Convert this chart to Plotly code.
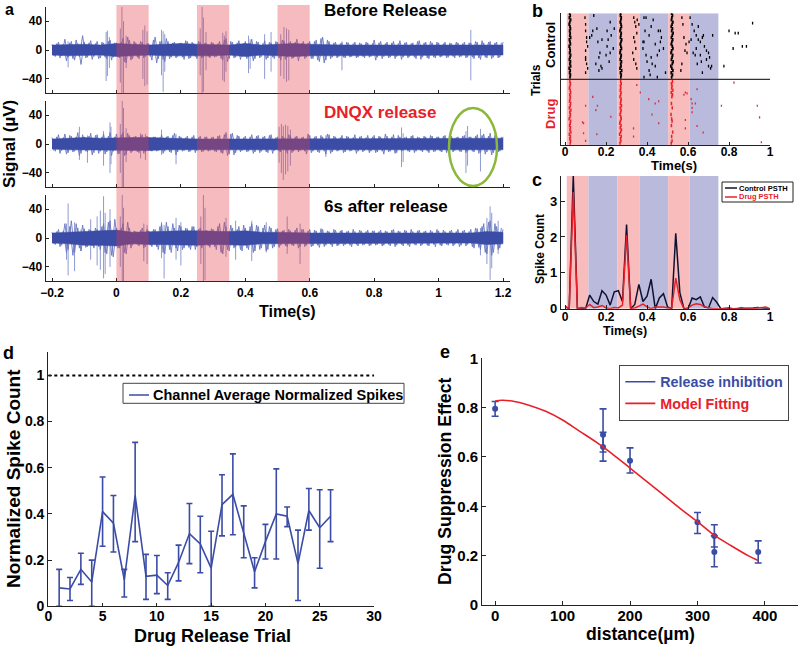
import numpy as np
import plotly.graph_objects as go

# ---------- panel a data ----------
a_time = np.round(np.arange(-0.2, 1.2001, 0.01), 3).tolist()
a_band_time = np.round(np.arange(-0.2, 1.2001, 0.05), 3).tolist()
a1_noise = [8,-9,11,-8,15,-10,12,-14,9,-20, 11,-10,13,-9,12,-11,10,-12,14,-10,
            10,-11,16,-18,14,-12,10,-12,11,-9, 9,-14,18,-12,13,-16,12,-10,11,-9,
            10,-13,12,-11,9,-12,11,-10,9,-11, 10,-9,12,-14,16,-12,11,-10,13,-9,
            12,-10,15,-12,11,-9,13,-11,10,-12, 11,-14,13,-10,12,-11,15,-9,12,-10,
            12,-12,14,-16,18,-14,12,-10,11,-9, 10,-11,10,-9,11,-10,9,-11,10,-9,
            14,-10,12,-9,11,-10,12,-9,13,-10, 11,-9,10,-12,13,-10,11,-12,10,-11,
            10,-9,11,-10,9,-11,10,-9,11,-10, 10,-12,11,-13,10,-11,12,-10,11,-10,
            11]
a2_noise = [9,-10,13,-9,14,-12,11,-10,16,-13, 10,-11,15,-12,13,-10,14,-11,16,-10,
            14,-13,16,-15,12,-10,11,-12,13,-11, 9,-10,10,-9,13,-10,11,-12,15,-11,
            10,-9,11,-10,12,-9,11,-10,10,-9, 10,-11,12,-13,16,-14,15,-12,11,-9,
            11,-10,13,-11,12,-10,11,-12,13,-9, 10,-11,9,-13,12,-10,11,-9,10,-14,
            12,-10,11,-12,10,-14,13,-11,10,-9, 12,-11,10,-9,13,-10,11,-9,12,-10,
            12,-11,10,-14,11,-10,13,-12,10,-9, 10,-11,12,-10,9,-11,10,-12,11,-10,
            10,-11,12,-10,11,-9,10,-11,12,-10, 10,-11,13,-12,14,-11,15,-12,11,-10,
            10]
a3_noise = [8,-9,12,-10,20,-16,24,-20,14,-18, 13,-12,11,-14,12,-16,20,-22,24,-26,
            14,-14,20,-22,14,-10,9,-11,14,-12, 10,-12,12,-16,20,-22,16,-20,14,-18,
            16,-14,13,-16,16,-12,14,-10,11,-13, 12,-16,20,-22,16,-18,14,-12,16,-18,
            14,-16,20,-18,16,-14,18,-16,14,-12, 13,-10,11,-12,10,-11,14,-12,12,-10,
            12,-11,10,-13,12,-10,9,-12,11,-10, 11,-9,10,-12,9,-11,10,-9,11,-10,
            10,-9,11,-10,9,-11,12,-10,9,-11, 10,-12,9,-10,11,-9,10,-11,9,-12,
            10,-11,9,-10,11,-9,12,-10,11,-9, 12,-14,13,-16,20,-22,24,-20,16,-14,
            12]
a1_band_hi = [7,8,8,7,9,8,7,8,9,8,8,7,9,7,8,9,8,7,7,7,7,8,7,7,8,7,7,7,7]
a2_band_hi = [7,8,9,8,9,9,9,8,7,7,7,7,8,8,7,7,7,8,7,7,7,8,7,7,7,7,7,8,8]
a3_band_hi = [7,8,10,10,11,8,9,10,10,10,9,9,10,8,8,7,7,7,7,7,7,7,7,7,7,7,7,9,8]
a1_spk_t = [-0.15,-0.032,-0.028,-0.022,0.012,0.017,0.022,0.03,0.082,0.088,0.095,0.14,0.145,0.15,0.26,0.266,0.27,0.278,0.33,0.335,0.34,0.41,0.415,0.46,0.48,0.51,0.52,0.528,0.535,0.70,1.10]
a1_spk_hi = [12,25,27,18,30,60,40,20,28,34,26,28,26,22,30,60,45,25,24,20,26,20,15,22,25,22,32,30,28,12,28]
a1_spk_lo = [-24,-43,-36,-25,-45,-60,-60,-25,-40,-50,-48,-35,-58,-30,-35,-60,-58,-28,-42,-44,-30,-32,-26,-40,-30,-36,-40,-44,-42,-28,-42]
a2_spk_t = [-0.115,-0.04,-0.02,-0.017,0.012,0.018,0.022,0.03,0.075,0.09,0.185,0.14,0.505,0.512,0.518,0.525,0.532,0.54,0.885,0.89,1.085,1.09,1.13,-0.09,0.65]
a2_spk_hi = [24,18,30,24,28,60,50,22,15,14,14,20,24,28,25,27,25,20,23,15,18,25,21,12,12]
a2_spk_lo = [-22,-30,-40,-28,-40,-60,-60,-25,-20,-22,-28,-15,-26,-40,-50,-42,-38,-30,-32,-25,-40,-30,-38,-26,-18]
a3_spk_t = [-0.155,-0.15,-0.13,-0.11,-0.08,-0.06,-0.05,-0.04,-0.035,-0.02,0.012,0.018,0.022,0.085,0.095,0.14,0.148,0.185,0.2,0.262,0.27,0.275,0.34,0.37,0.42,0.465,0.53,0.57,1.13,1.16,1.165,1.185,1.15]
a3_spk_hi = [20,48,22,12,26,30,38,58,35,40,30,60,42,20,18,22,18,28,22,30,60,42,28,24,24,22,30,20,14,44,35,24,28]
a3_spk_lo = [-30,-52,-46,-18,-30,-38,-44,-56,-50,-40,-40,-60,-60,-32,-36,-28,-56,-30,-38,-36,-60,-58,-26,-30,-32,-20,-22,-36,-24,-58,-42,-22,-36]

# ---------- panel b data ----------
b_ctrl_col_trials = list(range(31, 61))
b_ctrl_col1 = [.024,.026,.022,.025,.020,.027,.023,.026,.021,.024,.027,.022,.025,.023,.020,.026,.024,.021,.027,.023,.025,.022,.026,.024,.020,.023,.027,.021,.025,.022]
b_ctrl_col2 = [.272,.274,.270,.276,.268,.273,.271,.275,.269,.272,.274,.268,.270,.275,.272,.269,.273,.276,.270,.272,.274,.268,.271,.275,.273,.269,.272,.274,.270,.271]
b_ctrl_col3 = [.520,.524,.518,.526,.521,.516,.523,.527,.519,.522,.525,.517,.520,.526,.523,.518,.521,.525,.519,.523,.527,.520,.524,.518,.522,.526,.519,.521,.524,.520]
b_drug_col_trials = list(range(1, 30))
b_drug_col1 = [.025,.027,.023,.026,.021,.028,.024,.026,.022,.025,.027,.020,.024,.026,.023,.028,.021,.025,.027,.022,.024,.026,.023,.027,.025,.021,.024,.026,.023]
b_drug_col2 = [.268,.272,.270,.274,.266,.271,.275,.269,.273,.267,.270,.274,.272,.268,.271,.273,.269,.275,.270,.272,.274,.268,.271,.273,.269,.272,.270,.274,.271]
b_drug_col3 = [.518,.522,None,.520,None,.525,None,None,.519,None,.522,.520,None,.517,None,None,.523,None,.519,None,None,.521,.524,.518,.526,.520,.522,.519,.524]
b_ctrl_t = [.097,.100,.100,.105,.105,.110,.100,.100,.100,.105,.110,.100,.140,.155,.160,.130,.170,.180,.165,.165,.175,.205,.205,.220,.225,.215,.200,.235,.180,.150,.120,.135,.220,.240,.210,
            .335,.340,.345,.350,.352,.335,.340,.345,.330,.335,.345,.350,.360,.385,.390,.385,.380,.395,.410,.420,.430,.440,.450,.460,.470,.400,.410,.425,.455,.380,.395,.420,.440,.480,.385,.415,.450,.465,.490,.465,
            .570,.575,.580,.590,.585,.595,.570,.565,.610,.620,.630,.640,.650,.660,.670,.680,.690,.700,.705,.715,.625,.645,.665,.650,.635,.605,.615,.675,.690,.710,.660,.700,.720,.640,.670,
            .800,.830,.845,.915,.820,.865,.885,.775]
b_ctrl_trial = [58,55,52,49,47,45,43,40,39,37,35,33,59,53,47,50,42,48,40,34,36,52,45,42,50,38,41,44,35,37,49,52,56,53,48,
                58,56,54,51,57,49,47,44,42,39,37,35,55,58,52,47,44,41,50,54,57,46,41,43,49,38,34,37,52,47,58,40,36,44,31,32,31,47,33,52,
                58,55,49,46,43,42,37,34,58,55,52,50,48,47,49,45,43,42,40,36,42,37,38,54,41,47,48,50,39,35,41,36,50,44,33,
                52,51,51,55.5,44,45,45,36]
b_drug_t = [.090,.085,.090,.100,.100,.135,.158,.150,.223,.155,.334,.350,.367,.408,.457,.440,.424,.457,.334,.587,.580,.595,.587,.587,.620,.615,.644,.620,.636,.620,.644,.674,.763,.824,.938,.949,.958]
b_drug_trial = [10,10.5,5.5,2,18,22,18,16,13,5,7.7,27.4,24,21,20,19,14,10,4,24,23,23.6,11.5,7.7,15,21,25.5,19,19,17,8.8,5.8,18,28.5,18,12.7,1.4]

# ---------- panel c data ----------
c_time = np.round(np.arange(0, 1.001, 0.02), 2).tolist()
c_control = [.05,0,3.7,0,.02,0,.38,.2,.13,.5,.38,.1,.47,.5,.2,2.35,0,.12,.68,.2,.35,.82,0,.3,.42,.05,0,2.1,.45,0,0,.3,.25,.33,.05,.02,.31,.18,0,.02,.02,0,0,0,0,0,.02,.03,.02,.02,0]
c_drug = [.07,0,3.25,0,.03,.02,.12,.03,.05,.09,.02,0,.03,.02,.1,2.05,0,.02,.07,.13,.05,0,.05,.05,.05,.02,.02,.85,.25,0,.02,.1,.14,.12,.05,.03,0,0,0,0,.02,.02,0,.03,0,0,0,.02,.03,.05,0]

# ---------- panel d data ----------
d_trial = list(range(1, 27))
d_mean = [.08,.075,.16,.105,.41,.36,.115,.48,.13,.135,.09,.19,.315,.27,.165,.44,.485,.32,.15,.28,.40,.39,.185,.415,.34,.39]
d_upper = [.16,.125,.23,.20,.56,.48,.16,.71,.225,.22,.145,.265,.445,.39,.325,.57,.66,.435,.21,.355,.595,.43,.33,.51,.505,.505]
d_lower = [0,.025,.095,0,.26,.235,.04,.28,.03,.055,.03,.11,.185,.145,0,.305,.31,.21,.08,.205,.205,.345,.025,.33,.165,.28]
d_ref_x = [0, 30]
d_ref_y = [1, 1]

# ---------- panel e data ----------
e_dist = [0,160,160,200,300,325,325,390]
e_mean = [.795,.69,.64,.585,.335,.28,.215,.215]
e_upper = [.825,.795,.70,.637,.375,.325,.28,.26]
e_lower = [.765,.62,.583,.535,.29,.235,.155,.17]
e_fit_x = [0,10,25,50,75,100,125,150,175,200,225,250,275,300,325,350,375,390]
e_fit_y = [.827,.83,.827,.81,.785,.75,.705,.66,.61,.555,.50,.445,.39,.338,.283,.24,.20,.18]

BLUE = "#3b4ca6"
MBLUE = "#6676c0"
LBLUE = "#8e9ad0"
PINK = "#f8bcbc"
VIOLET = "#babadd"
RED = "#e8202a"
FONT = "Liberation Sans"

def dx(a, b): return [a / 800, b / 800]
def dy(top, bot): return [1 - bot / 646, 1 - top / 646]
def b_(s): return f"<b>{s}</b>"

fig = go.Figure()

# panel a
signal = [(a1_noise, a1_band_hi, a1_spk_t, a1_spk_hi, a1_spk_lo),
          (a2_noise, a2_band_hi, a2_spk_t, a2_spk_hi, a2_spk_lo),
          (a3_noise, a3_band_hi, a3_spk_t, a3_spk_hi, a3_spk_lo)]
for i, (noise, band, st, sh, sl) in enumerate(signal):
    ax = "" if i == 0 else str(i + 1)
    sx, sy = [], []
    for t, h, l in zip(st, sh, sl):
        sx += [t, t, None]
        sy += [h, l, None]
    fig.add_trace(go.Scatter(x=sx, y=sy, mode="lines", line=dict(color=LBLUE, width=1),
                             xaxis="x" + ax, yaxis="y" + ax, showlegend=False, hoverinfo="skip"))
    fig.add_trace(go.Scatter(x=[t + 0.005 for t in a_time[:-1]], y=[-v for v in noise[:-1]], mode="lines",
                             line=dict(color=MBLUE, width=0.9),
                             xaxis="x" + ax, yaxis="y" + ax, showlegend=False))
    fig.add_trace(go.Scatter(x=a_time, y=noise, mode="lines", line=dict(color=MBLUE, width=0.9),
                             xaxis="x" + ax, yaxis="y" + ax, showlegend=False))
    fig.add_trace(go.Scatter(x=a_band_time + a_band_time[::-1],
                             y=band + [-v for v in band[::-1]], mode="lines", fill="toself",
                             fillcolor=BLUE, line=dict(color=BLUE, width=0.5),
                             xaxis="x" + ax, yaxis="y" + ax, showlegend=False))

# panel b
def raster(t, tr, color, size=2.0, w=1.3):
    fig.add_trace(go.Scatter(x=t, y=tr, mode="markers", xaxis="x4", yaxis="y4", showlegend=False,
                             marker=dict(symbol="line-ns", size=size, line=dict(color=color, width=w))))
for col in (b_ctrl_col1, b_ctrl_col2, b_ctrl_col3):
    raster(col, b_ctrl_col_trials, "black", 2.4, 1.7)
raster(b_ctrl_t, b_ctrl_trial, "black")
for col in (b_drug_col1, b_drug_col2, b_drug_col3):
    raster(col, b_drug_col_trials, RED, 2.4, 1.5)
raster(b_drug_t, b_drug_trial, "#d8303a", 1.5)

# panel c
fig.add_trace(go.Scatter(x=c_time, y=c_control, mode="lines", xaxis="x5", yaxis="y5",
                         line=dict(color="#101030", width=1.5), showlegend=False))
fig.add_trace(go.Scatter(x=c_time, y=c_drug, mode="lines", xaxis="x5", yaxis="y5",
                         line=dict(color=RED, width=1.5), showlegend=False))

# panel d
fig.add_trace(go.Scatter(x=d_ref_x, y=d_ref_y, mode="lines", xaxis="x6", yaxis="y6", showlegend=False,
                         line=dict(color="black", width=2, dash="dot")))
fig.add_trace(go.Scatter(x=d_trial, y=d_mean, mode="lines", xaxis="x6", yaxis="y6", cliponaxis=False,
                         line=dict(color=BLUE, width=1.6), showlegend=False,
                         error_y=dict(type="data", symmetric=False, color=BLUE, thickness=1.6, width=3,
                                      array=[u - m for u, m in zip(d_upper, d_mean)],
                                      arrayminus=[m - l for m, l in zip(d_mean, d_lower)])))

# panel e
fig.add_trace(go.Scatter(x=e_dist, y=e_mean, mode="markers", xaxis="x7", yaxis="y7", showlegend=False,
                         marker=dict(color=BLUE, size=6),
                         error_y=dict(type="data", symmetric=False, color=BLUE, thickness=1.6, width=3.5,
                                      array=[u - m for u, m in zip(e_upper, e_mean)],
                                      arrayminus=[m - l for m, l in zip(e_mean, e_lower)])))
fig.add_trace(go.Scatter(x=[None], y=[None], mode="lines", xaxis="x7", yaxis="y7", legend="legend",
                         line=dict(color=BLUE, width=1.6),
                         name="<span style='color:#3b4ca6'>" + b_("Release inhibition") + "</span>"))
fig.add_trace(go.Scatter(x=e_fit_x, y=e_fit_y, mode="lines", xaxis="x7", yaxis="y7", legend="legend",
                         line=dict(color=RED, width=1.6, shape="spline"),
                         name="<span style='color:#e8202a'>" + b_("Model Fitting") + "</span>"))

shapes = []
for x0, x1 in [(0, 0.1), (0.25, 0.35), (0.5, 0.6)]:
    shapes.append(dict(type="rect", xref="x3", yref="paper", x0=x0, x1=x1,
                       y0=1 - 281.3 / 646, y1=1 - 5 / 646, layer="above",
                       fillcolor="rgba(230,60,70,0.35)", line_width=0))
shapes.append(dict(type="circle", xref="paper", yref="paper", x0=449 / 800, x1=497 / 800,
                   y0=1 - 186 / 646, y1=1 - 108 / 646, line=dict(color="#8ab83a", width=2.5), layer="above"))
bands = [(.008, .114, PINK), (.114, .255, VIOLET), (.255, .363, PINK),
         (.363, .503, VIOLET), (.503, .608, PINK), (.608, .748, VIOLET)]
for ax_x, ax_y, top in [("x4", "y4", 60), ("x5", "y5", 3.7)]:
    for x0, x1, c in bands:
        shapes.append(dict(type="rect", xref=ax_x, yref=ax_y, x0=x0, x1=x1, y0=0, y1=top,
                           fillcolor=c, line_width=0, layer="below"))
shapes.append(dict(type="line", xref="x4", yref="y4", x0=-0.02, x1=1, y0=30, y1=30,
                   line=dict(color="#333333", width=1.3), layer="above"))

def pbox(x0, y0, x1, y1, color):
    return dict(type="rect", xref="paper", yref="paper", x0=x0 / 800, x1=x1 / 800,
                y0=1 - y1 / 646, y1=1 - y0 / 646, fillcolor="white",
                line=dict(color=color, width=1), layer="above")
def pline(x0, x1, y, color, w=1.5):
    return dict(type="line", xref="paper", yref="paper", x0=x0 / 800, x1=x1 / 800,
                y0=1 - y / 646, y1=1 - y / 646, line=dict(color=color, width=w), layer="above")
shapes += [pbox(722, 182, 793, 202, "#222222"), pline(725, 737, 188, "#101030"), pline(725, 737, 197, RED),
           pbox(123, 383.3, 404, 403.3, "#444444"), pline(129, 149, 395, BLUE)]

def text(x, y, s, size, color="black", angle=0, anchor="center"):
    return dict(xref="paper", yref="paper", x=x / 800, y=1 - y / 646, text=b_(s), showarrow=False,
                font=dict(family=FONT, size=size, color=color), textangle=angle,
                xanchor=anchor, yanchor="middle", borderpad=0)

annotations = [
    text(4, 9, "a", 16, anchor="left"), text(531, 11, "b", 18, anchor="left"),
    text(531, 180, "c", 18, anchor="left"), text(2, 353, "d", 18, anchor="left"),
    text(439, 352, "e", 18, anchor="left"),
    text(323, 11, "Before Release", 17, anchor="left"),
    text(323, 112, "DNQX release", 17, RED, anchor="left"),
    text(323, 207, "6s after release", 17, anchor="left"),
    text(536, 80, "Trials", 12, angle=-90),
    text(550, 45, "Control", 13, angle=-90),
    text(550, 114, "Drug", 13, RED, angle=-90),
    text(9, 144, "Signal (µV)", 17, angle=-90),
    text(287, 311, "Time(s)", 16),
    text(674, 165, "Time(s)", 13),
    text(625, 331, "Time(s)", 12.5),
    text(540, 249, "Spike Count", 12, angle=-90),
    text(13, 479, "Normalized Spike Count", 19, angle=-90),
    text(212.5, 636, "Drug Release Trial", 18),
    text(445, 482, "Drug Suppression Effect", 17.7, angle=-90),
    text(640, 634, "distance(µm)", 17.6),
    text(738, 188, "Control PSTH", 7.5, anchor="left"),
    text(738, 197, "Drug PSTH", 7.5, RED, anchor="left"),
    text(152, 395, "Channel Average Normalized Spikes", 14.5, anchor="left"),
]

def axis(dom, rng, dtick=None, fs=12, **kw):
    d = dict(domain=dom, range=rng, showgrid=False, zeroline=False, showline=True, linecolor="#222222",
             linewidth=1.2, ticks="inside", ticklen=3.5, tickcolor="#222222", automargin=False,
             tickfont=dict(family=FONT, size=fs, color="black", weight="bold"))
    if dtick is not None:
        d["dtick"] = dtick
    d.update(kw)
    return d

ax_xrange = [-0.2196, 1.2217]
rows = [(6.8, 93.3), (100.8, 187.3), (194.8, 281.3)]
frac = dict(tickvals=[0, .2, .4, .6, .8, 1], ticktext=["0", "0.2", "0.4", "0.6", "0.8", "1"])
layout = dict(
    width=800, height=646, autosize=False, margin=dict(l=0, r=0, t=0, b=0),
    paper_bgcolor="white", plot_bgcolor="rgba(0,0,0,0)", shapes=shapes, annotations=annotations,
    font=dict(family=FONT),
    xaxis=axis(dx(45.7, 510), ax_xrange, 0.2, anchor="y", showticklabels=False),
    yaxis=axis(dy(*rows[0]), [-60, 60], anchor="x", tickvals=[-40, 0, 40]),
    xaxis2=axis(dx(45.7, 510), ax_xrange, 0.2, anchor="y2", showticklabels=False),
    yaxis2=axis(dy(*rows[1]), [-60, 60], anchor="x2", tickvals=[-40, 0, 40]),
    xaxis3=axis(dx(45.7, 510), ax_xrange, 0.2, anchor="y3"),
    yaxis3=axis(dy(*rows[2]), [-60, 60], anchor="x3", tickvals=[-40, 0, 40]),
    xaxis4=axis(dx(561, 770), [-0.02, 1.0], 0.2, 12, anchor="y4", ticklabelstandoff=-5),
    yaxis4=axis(dy(13.3, 145.3), [0, 60], anchor="x4", showticklabels=False, ticks=""),
    xaxis5=axis(dx(561, 770), [-0.02, 1.0], 0.2, 12, anchor="y5", ticklabelstandoff=-3),
    yaxis5=axis(dy(176, 308.7), [0, 3.7], 1, 13, anchor="x5"),
    xaxis6=axis(dx(48.3, 374), [0, 30], 5, 14, anchor="y6", ticklabelstandoff=-3),
    yaxis6=axis(dy(352.3, 606.3), [0, 1.1], None, 14, anchor="x6", **frac),
    xaxis7=axis(dx(482.3, 798), [-19, 449], 100, 15, anchor="y7", ticklabelstandoff=-3),
    yaxis7=axis(dy(358.3, 605), [0, 1], None, 15, anchor="x7", **frac),
    legend=dict(x=619.3 / 800, y=1 - 365 / 646, xanchor="left", yanchor="top", bgcolor="white",
                bordercolor="#444444", borderwidth=1, font=dict(family=FONT, size=14.3, color="black"),
                itemwidth=30, tracegroupgap=0),
    showlegend=True,
)
fig.update_layout(**layout)
fig.write_html("out.html", config=dict(displayModeBar=False),
               post_script="document.body.style.margin='0';")
